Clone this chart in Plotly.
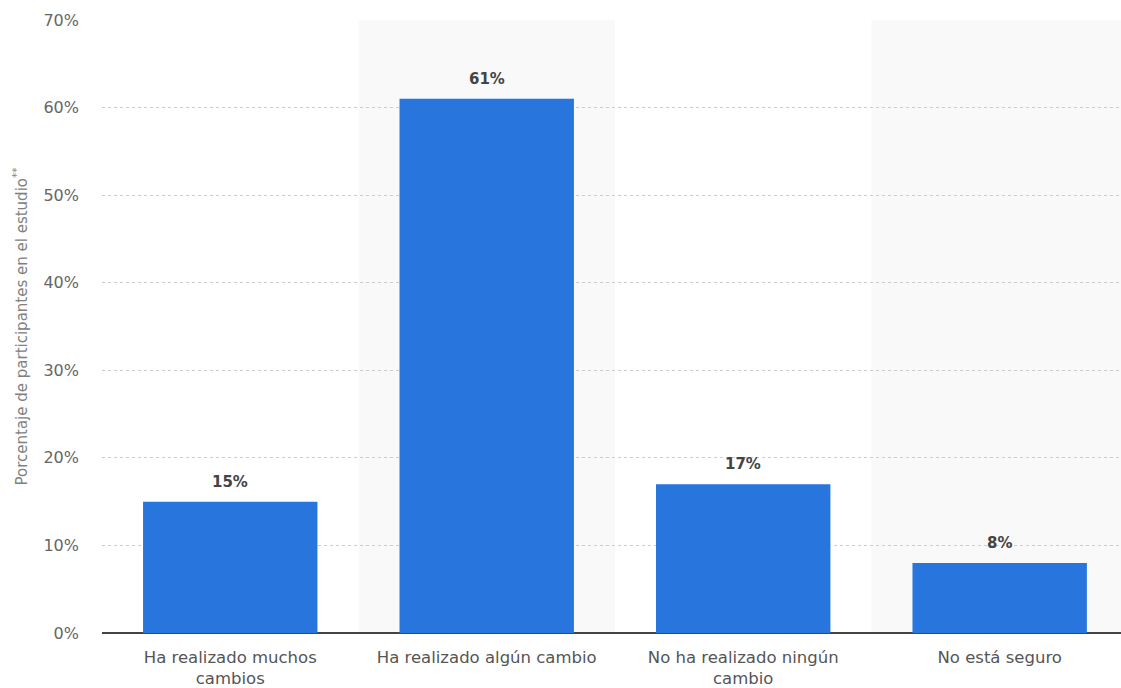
import plotly.graph_objects as go

categories = ["Ha realizado muchos<br>cambios", "Ha realizado algún cambio",
              "No ha realizado ningún<br>cambio", "No está seguro"]
values = [15, 61, 17, 8]
labels = ["15%", "61%", "17%", "8%"]
y_title = "Porcentaje de participantes en el estudio<sup>**</sup>"

FONT = "DejaVu Sans"

fig = go.Figure()
fig.add_trace(go.Bar(
    x=list(range(len(categories))), y=values, width=0.68,
    marker=dict(color="#2876dd", line=dict(width=0)),
    hoverinfo="skip",
))

for i, (v, t) in enumerate(zip(values, labels)):
    fig.add_annotation(x=i, y=v, text="<b>%s</b>" % t, showarrow=False,
                       yanchor="bottom", yshift=9,
                       font=dict(family=FONT, size=15, color="#444444"))

for i in range(len(categories)):
    if i % 2 == 1:
        fig.add_shape(type="rect", xref="x", yref="paper", x0=i - 0.5, x1=i + 0.5,
                      y0=0, y1=1, fillcolor="#f9f9f9", line=dict(width=0), layer="below")

fig.add_annotation(xref="paper", yref="paper", x=0, y=0.5, xshift=-82,
                   text=y_title, textangle=-90, showarrow=False,
                   xanchor="center", yanchor="middle",
                   font=dict(family=FONT, size=15, color="#808080"))

fig.update_layout(
    width=1121, height=688,
    margin=dict(l=102, r=0, t=20, b=55, autoexpand=False),
    paper_bgcolor="white", plot_bgcolor="white",
    showlegend=False,
    font=dict(family=FONT, color="#666666"),
)
fig.update_xaxes(
    tickmode="array", tickvals=list(range(len(categories))), ticktext=categories,
    range=[-0.5, 3.473], showgrid=False, zeroline=False,
    showline=False, tickfont=dict(family=FONT, size=16.5, color="#555555"),
    ticks="", ticklabelstandoff=12, fixedrange=True, automargin=False,
)
fig.update_yaxes(
    range=[0, 70], dtick=10, ticksuffix="%",
    showgrid=True, gridcolor="#cccccc", griddash="dot", gridwidth=1,
    zeroline=True, zerolinecolor="#444444", zerolinewidth=2,
    tickfont=dict(family=FONT, size=16, color="#666666"),
    ticklabelstandoff=22,
    fixedrange=True, automargin=False,
)

fig.write_html("out.html")
